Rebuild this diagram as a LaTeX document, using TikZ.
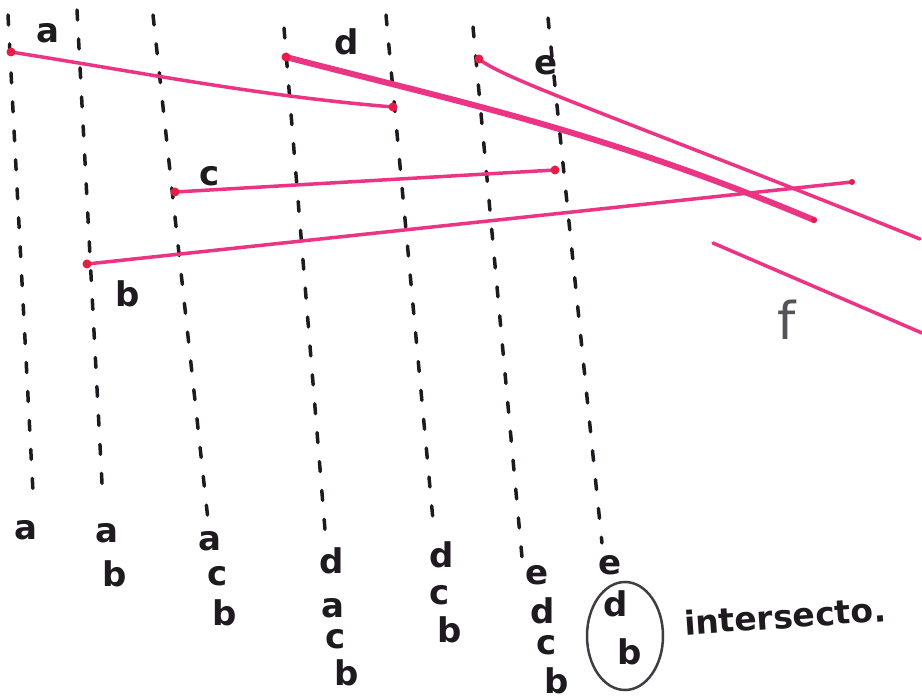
\documentclass[tikz,border=0pt]{standalone}
\usepackage{fontspec}
\setmainfont{DejaVu Sans}
\definecolor{pinkseg}{RGB}{236,52,132}
\definecolor{dotred}{RGB}{228,30,70}
\definecolor{ink}{RGB}{30,26,32}
\begin{document}
\begin{tikzpicture}[x=1pt,y=-1pt,
  sweep/.style={draw=ink,line width=3.5pt,dash pattern=on 10pt off 19pt,line cap=round},
  seg/.style={draw=pinkseg,line width=3.5pt,line cap=round},
  thickseg/.style={draw=pinkseg,line width=6pt,line cap=round},
  endpt/.style={circle,fill=dotred,inner sep=0pt,minimum size=9pt},
  lbl/.style={text=ink,font=\fontsize{34}{36}\selectfont\bfseries,inner sep=0pt},
  biglbl/.style={text=ink!75,font=\fontsize{52}{54}\selectfont,inner sep=0pt},
  note/.style={text=ink,font=\fontsize{33}{35}\selectfont\bfseries,inner sep=0pt},
  ]
\useasboundingbox[fill=white] (0,0) rectangle (922,700);

% sweep lines
\coordinate (s1t) at (8,15);   \coordinate (s1b) at (33,492);
\coordinate (s2t) at (77,10);  \coordinate (s2b) at (103,502);
\coordinate (s3t) at (153,15); \coordinate (s3b) at (208,520);
\coordinate (s4t) at (284,28); \coordinate (s4b) at (326,542);
\coordinate (s5t) at (386,15); \coordinate (s5b) at (433,520);
\coordinate (s6t) at (473,27); \coordinate (s6b) at (522,557);
\coordinate (s7t) at (548,18); \coordinate (s7b) at (602,543);
\foreach \i in {1,...,7} \draw[sweep] (s\i t) -- (s\i b);

% segment end points
\coordinate (a1) at (11,52);  \coordinate (a2) at (393,107);
\coordinate (d1) at (286,57); \coordinate (d2) at (814,220);
\coordinate (e1) at (479,59); \coordinate (e2) at (920,239);
\coordinate (c1) at (175,192); \coordinate (c2) at (555,170);
\coordinate (b1) at (87,264); \coordinate (b2) at (852,182);
\coordinate (f1) at (713,243); \coordinate (f2) at (922,333);

\draw[seg] (a1) .. controls (150,74) and (260,96) .. (a2);
\draw[thickseg] (d1) .. controls (450,100) and (600,130) .. (d2);
\draw[seg] (e1) .. controls (505,80) and (620,118) .. (e2);
\draw[seg] (c1) -- (c2);
\draw[seg] (b1) -- (b2);
\draw[seg] (f1) -- (f2);

\foreach \p in {a1,a2,d1,e1,c1,c2,b1}
  \node[endpt] at (\p) {};
\foreach \p in {d2,b2}
  \node[endpt,minimum size=6pt] at (\p) {};

% segment labels
\node[lbl] (la) at (48,33) {a};
\node[lbl] (ld) at (347,42) {d};
\node[lbl] (le) at (546,65) {e};
\node[lbl] (lc) at (210,176) {c};
\node[lbl] (lb) at (128,294) {b};
\node[biglbl] (lf) at (787,320) {f};

% status lists
\node[lbl] (q1a) at (26,530) {a};
\node[lbl] (q2a) at (107,533) {a};
\node[lbl] (q2b) at (115,574) {b};
\node[lbl] (q3a) at (210,541) {a};
\node[lbl] (q3c) at (218,576) {c};
\node[lbl] (q3b) at (225,613) {b};
\node[lbl] (q4d) at (332,561) {d};
\node[lbl] (q4a) at (333,608) {a};
\node[lbl] (q4c) at (336,639) {c};
\node[lbl] (q4b) at (347,673) {b};
\node[lbl] (q5d) at (442,555) {d};
\node[lbl] (q5c) at (440,595) {c};
\node[lbl] (q5b) at (450,630) {b};
\node[lbl] (q6e) at (537,575) {e};
\node[lbl] (q6d) at (543,611) {d};
\node[lbl] (q6c) at (547,645) {c};
\node[lbl] (q6b) at (557,681) {b};
\node[lbl] (q7e) at (610,565) {e};
\node[lbl] (q7d) at (616,604) {d};
\node[lbl] (q7b) at (630,652) {b};
\draw[ink!85,line width=2.5pt] (625,636) ellipse [x radius=38, y radius=54];
\node[note,rotate=4] (inter) at (785,616) {intersecto.};
\end{tikzpicture}
\end{document}
